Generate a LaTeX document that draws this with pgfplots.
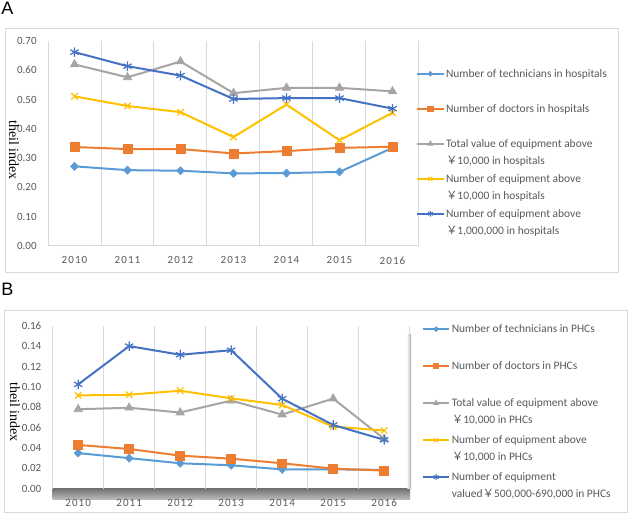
\documentclass[border=0pt]{standalone}
\usepackage{fontspec}
\setmainfont{Carlito}
\newfontfamily\cjk{Noto Sans CJK SC}
\newfontfamily\serifA{Liberation Serif}
\newfontfamily\sansA{Liberation Sans}
\usepackage{pgfplots}
\pgfplotsset{compat=1.18}

\definecolor{cTech}{HTML}{5B9BD5}
\definecolor{cDoc}{HTML}{ED7D31}
\definecolor{cTot}{HTML}{A5A5A5}
\definecolor{cNum}{HTML}{FFC000}
\definecolor{cEq}{HTML}{4472C4}
\definecolor{txt}{HTML}{595959}
\definecolor{grd}{HTML}{D9D9D9}

\pgfplotsset{
  excel/.style={
    scale only axis, anchor=south west,
    xmin=-0.5, xmax=6.5,
    xtick={0,...,6}, xticklabels={2010,2011,2012,2013,2014,2015,2016},
    minor xtick={-0.5,0.5,...,6.5}, xminorgrids,
    minor grid style={grd, line width=0.75pt},
    major tick length=0pt, minor tick length=0pt,
    axis line style={draw=none},
    /pgf/number format/assume math mode=true,
    yticklabel style={font=\fontsize{8.25}{10}\selectfont, text=txt, xshift=-5pt,
      /pgf/number format/.cd, fixed, fixed zerofill, precision=2},
    xticklabel style={font=\fontsize{8.25}{10}\selectfont\addfontfeature{LetterSpace=10}, text=txt, yshift=-4.5pt},
    legend style={draw=none, fill=none, inner sep=0pt, outer sep=0pt, anchor=north west,
      font=\fontsize{8.6}{12.75}\selectfont, text=txt, row sep=0pt, column sep=1pt,
      cells={anchor=base west}, nodes={inner sep=0pt, text height=6pt}},
    legend image code/.code={\draw[mark repeat=2, mark phase=2, #1, every mark/.append style={scale=0.6}]
      plot coordinates {(0pt,2.5pt) (10pt,2.5pt) (20pt,2.5pt)};},
  },
  sTech/.style={cTech, line width=1.5pt, mark=diamond*, mark size=3pt, mark options={solid, fill=cTech, line width=0.5pt, xscale=1.3}},
  sDoc/.style={cDoc, line width=1.5pt, mark=square*, mark size=3.3pt, mark options={solid, fill=cDoc, line width=0.5pt}},
  sTot/.style={cTot, line width=1.5pt, mark=triangle*, mark size=3.6pt, mark options={solid, fill=cTot, line width=0.5pt}},
  sNum/.style={cNum, line width=1.5pt, mark=x, mark size=3.4pt, mark options={solid, line width=0.9pt}},
  sEq/.style={cEq, line width=1.5pt, mark=asterisk, mark size=3.6pt, mark options={solid, line width=0.9pt}},
}

\begin{document}
\begin{tikzpicture}
\path (0,0) rectangle (471pt,387.75pt);
% frames
\draw[grd, line width=0.75pt] (3.75pt,183pt) rectangle (463.5pt,366pt);
\draw[grd, line width=0.75pt] (3pt,3pt) rectangle (470.25pt,154.5pt);
% panel letters
\node[anchor=base west, inner sep=0pt, font=\sansA\fontsize{13.5}{15}\selectfont] at (0.75pt,376.5pt) {A};
\node[anchor=base west, inner sep=0pt, font=\sansA\fontsize{13.5}{15}\selectfont] at (0.75pt,165.75pt) {B};

% ---------- A: hospitals
\begin{axis}[excel, at={(36pt,203.25pt)}, width=278.25pt, height=153.75pt,
  ymin=0, ymax=0.7, ytick={0,0.1,...,0.71},
  legend style={at={(0.992,0.863)}, nodes={text depth=20.25pt}}]
\draw[grd, line width=0.75pt] (axis cs:-0.5,0) -- (axis cs:6.5,0);
\addplot[sTech] coordinates {(0,0.272) (1,0.259) (2,0.257) (3,0.248) (4,0.249) (5,0.253) (6,0.335)};
\addlegendentry{Number of technicians in hospitals}
\addplot[sDoc] coordinates {(0,0.338) (1,0.331) (2,0.331) (3,0.316) (4,0.324) (5,0.335) (6,0.339)};
\addlegendentry{Number of doctors in hospitals}
\addplot[sTot] coordinates {(0,0.620) (1,0.576) (2,0.630) (3,0.522) (4,0.540) (5,0.540) (6,0.528)};
\addlegendentry{\vtop{\hbox{Total value of equipment above}\hbox{{\cjk ￥}10,000 in hospitals}}}
\addplot[sNum] coordinates {(0,0.511) (1,0.478) (2,0.457) (3,0.372) (4,0.483) (5,0.361) (6,0.455)};
\addlegendentry{\vtop{\hbox{Number of equipment above}\hbox{{\cjk ￥}10,000 in hospitals}}}
\addplot[sEq] coordinates {(0,0.662) (1,0.614) (2,0.582) (3,0.502) (4,0.505) (5,0.505) (6,0.469)};
\addlegendentry{\vtop{\hbox{Number of equipment above}\hbox{{\cjk ￥}1,000,000 in hospitals}}}
\end{axis}
\node[rotate=-90, font=\serifA\fontsize{10.5}{12}\selectfont, inner sep=0pt] at (10.5pt,275.25pt) {theil index};

% ---------- B: PHCs
\shade[top color=black!55, bottom color=black!25] (39.5pt,12.75pt) rectangle (307.5pt,21.2pt);
\shade[left color=black!5, right color=black!35] (305.5pt,21.2pt) rectangle (308.25pt,136.5pt);
\begin{axis}[excel, at={(39.5pt,21.2pt)}, width=267.75pt, height=122.25pt,
  ymin=0, ymax=0.16, ytick={0,0.02,...,0.161},
  legend style={at={(1.034,1.008)}, nodes={text depth=21.75pt}}]
\addplot[sTech] coordinates {(0,0.035) (1,0.030) (2,0.025) (3,0.023) (4,0.019) (5,0.019) (6,0.0185)};
\addlegendentry{Number of technicians in PHCs}
\addplot[sDoc] coordinates {(0,0.043) (1,0.039) (2,0.0325) (3,0.0295) (4,0.025) (5,0.0197) (6,0.0178)};
\addlegendentry{Number of doctors in PHCs}
\addplot[sTot] coordinates {(0,0.078) (1,0.0795) (2,0.0748) (3,0.0865) (4,0.0728) (5,0.0885) (6,0.049)};
\addlegendentry{\vtop{\hbox{Total value of equipment above}\hbox{{\cjk ￥}10,000 in PHCs}}}
\addplot[sNum] coordinates {(0,0.0916) (1,0.0923) (2,0.0962) (3,0.0887) (4,0.0822) (5,0.061) (6,0.0571)};
\addlegendentry{\vtop{\hbox{Number of equipment above}\hbox{{\cjk ￥}10,000 in PHCs}}}
\addplot[sEq] coordinates {(0,0.1024) (1,0.140) (2,0.1315) (3,0.136) (4,0.0884) (5,0.0626) (6,0.048)};
\addlegendentry{\vtop{\hbox{Number of equipment}\hbox{valued{\cjk ￥}500,000-690,000 in PHCs}}}
\end{axis}
\node[rotate=-90, font=\serifA\fontsize{10.5}{12}\selectfont, inner sep=0pt] at (11.25pt,78.75pt) {theil index};
\end{tikzpicture}
\end{document}
